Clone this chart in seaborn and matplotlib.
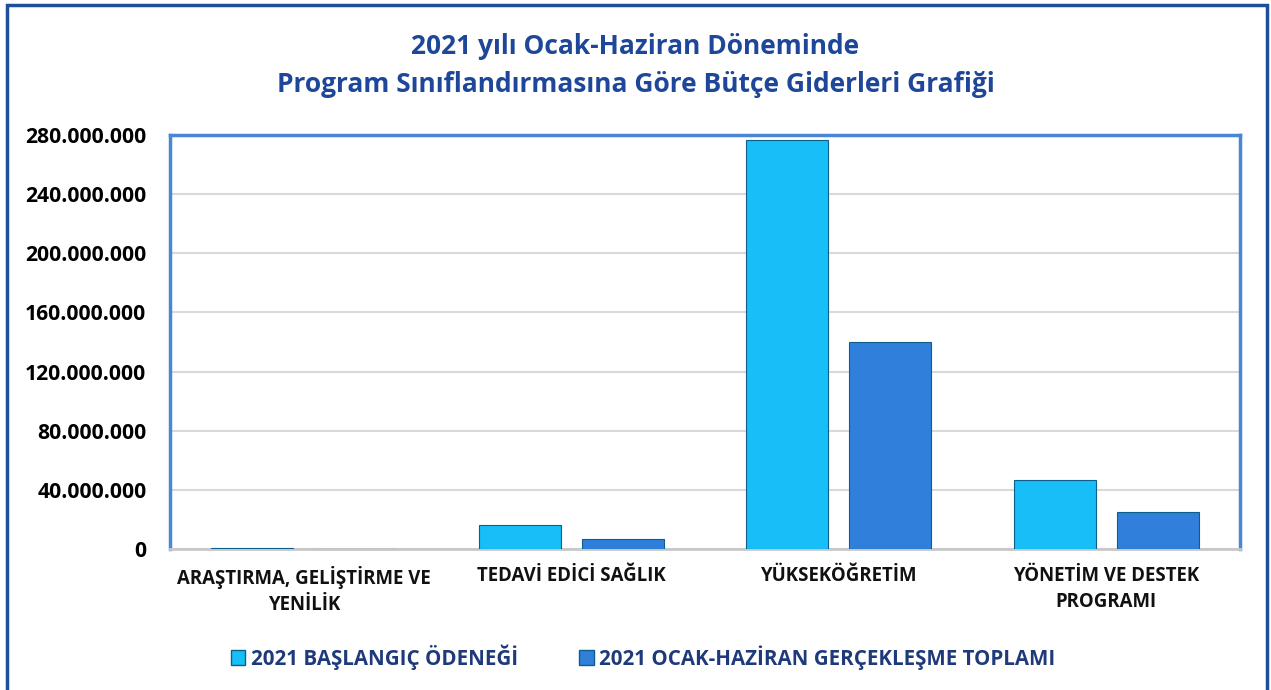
import matplotlib
matplotlib.use("Agg")
import pandas as pd
import matplotlib.pyplot as plt
import seaborn as sns
from matplotlib.ticker import FuncFormatter
from matplotlib.patches import Rectangle

# data
categories = ["ARAŞTIRMA, GELİŞTİRME VE\nYENİLİK", "TEDAVİ EDİCİ SAĞLIK",
              "YÜKSEKÖĞRETİM", "YÖNETİM VE DESTEK\nPROGRAMI"]
series = ["2021 BAŞLANGIÇ ÖDENEĞİ", "2021 OCAK-HAZİRAN GERÇEKLEŞME TOPLAMI"]
baslangic = [1000000, 16500000, 276500000, 47000000]
gerceklesme = [150000, 6800000, 140300000, 25000000]
y_ticks = [0, 40000000, 80000000, 120000000, 160000000, 200000000, 240000000, 280000000]

df = pd.DataFrame({
    "Program": categories * 2,
    "Seri": [series[0]] * 4 + [series[1]] * 4,
    "Tutar": baslangic + gerceklesme,
})

sns.set_style("white")
plt.rcParams["font.family"] = ["Open Sans", "DejaVu Sans"]

fig = plt.figure(figsize=(12.71, 6.90), dpi=100)
ax = fig.add_axes([170 / 1271, 1 - 549 / 690, (1240 - 170) / 1271, (549 - 135) / 690])

colors = ["#17BEF7", "#2F7FDB"]
sns.barplot(data=df, x="Program", y="Tutar", hue="Seri", palette=colors,
            width=0.77, gap=0.2, ax=ax, saturation=1, legend=False,
            edgecolor="#0E5E8C", linewidth=0.8, zorder=3)

ax.set_ylim(0, 280000000)
ax.set_yticks(y_ticks)
ax.yaxis.set_major_formatter(FuncFormatter(lambda v, p: f"{int(v):,}".replace(",", ".")))
ax.grid(axis="y", color="#D9D9D9", linewidth=1.5, zorder=0)
ax.set_xlabel("")
ax.set_ylabel("")
ax.tick_params(axis="both", length=0)
for lbl in ax.get_yticklabels():
    lbl.set_fontsize(15.2)
    lbl.set_fontweight("bold")
    lbl.set_color("black")
ax.tick_params(axis="y", pad=17)
ax.tick_params(axis="x", pad=12)
for lbl in ax.get_xticklabels():
    lbl.set_fontsize(13.4)
    lbl.set_fontweight("bold")
    lbl.set_color("#111111")
    lbl.set_linespacing(1.42)

for side in ["left", "top", "right"]:
    ax.spines[side].set_color("#4A86D8")
    ax.spines[side].set_linewidth(2.5)
ax.spines["bottom"].set_color("#C8C8C8")
ax.spines["bottom"].set_linewidth(2)

fig.text(0.5, 1 - 47 / 690, "2021 yılı Ocak-Haziran Döneminde", ha="center", va="center",
         fontsize=19, fontweight="bold", color="#1E4799")
fig.text(0.5, 1 - 85 / 690, "Program Sınıflandırmasına Göre Bütçe Giderleri Grafiği", ha="center",
         va="center", fontsize=19, fontweight="bold", color="#1E4799")

# legend
handles = [Rectangle((0, 0), 1, 1, facecolor=c, edgecolor="#0E5E8C") for c in colors]
leg = fig.legend(handles, series, loc="center", bbox_to_anchor=(0.506, 1 - 657 / 690),
                 ncol=2, frameon=False, handlelength=0.7, handleheight=0.7,
                 handletextpad=0.25, columnspacing=3.0,
                 prop={"weight": "bold", "size": 14.8})
for t in leg.get_texts():
    t.set_color("#1F3A7A")

# outer border
fig.patches.append(Rectangle((7 / 1271, -0.05), (1267 - 7) / 1271, 1.05 - 5 / 690,
                             transform=fig.transFigure, fill=False,
                             edgecolor="#1F4E9A", linewidth=2.5))

fig.savefig("out.png", dpi=100)
